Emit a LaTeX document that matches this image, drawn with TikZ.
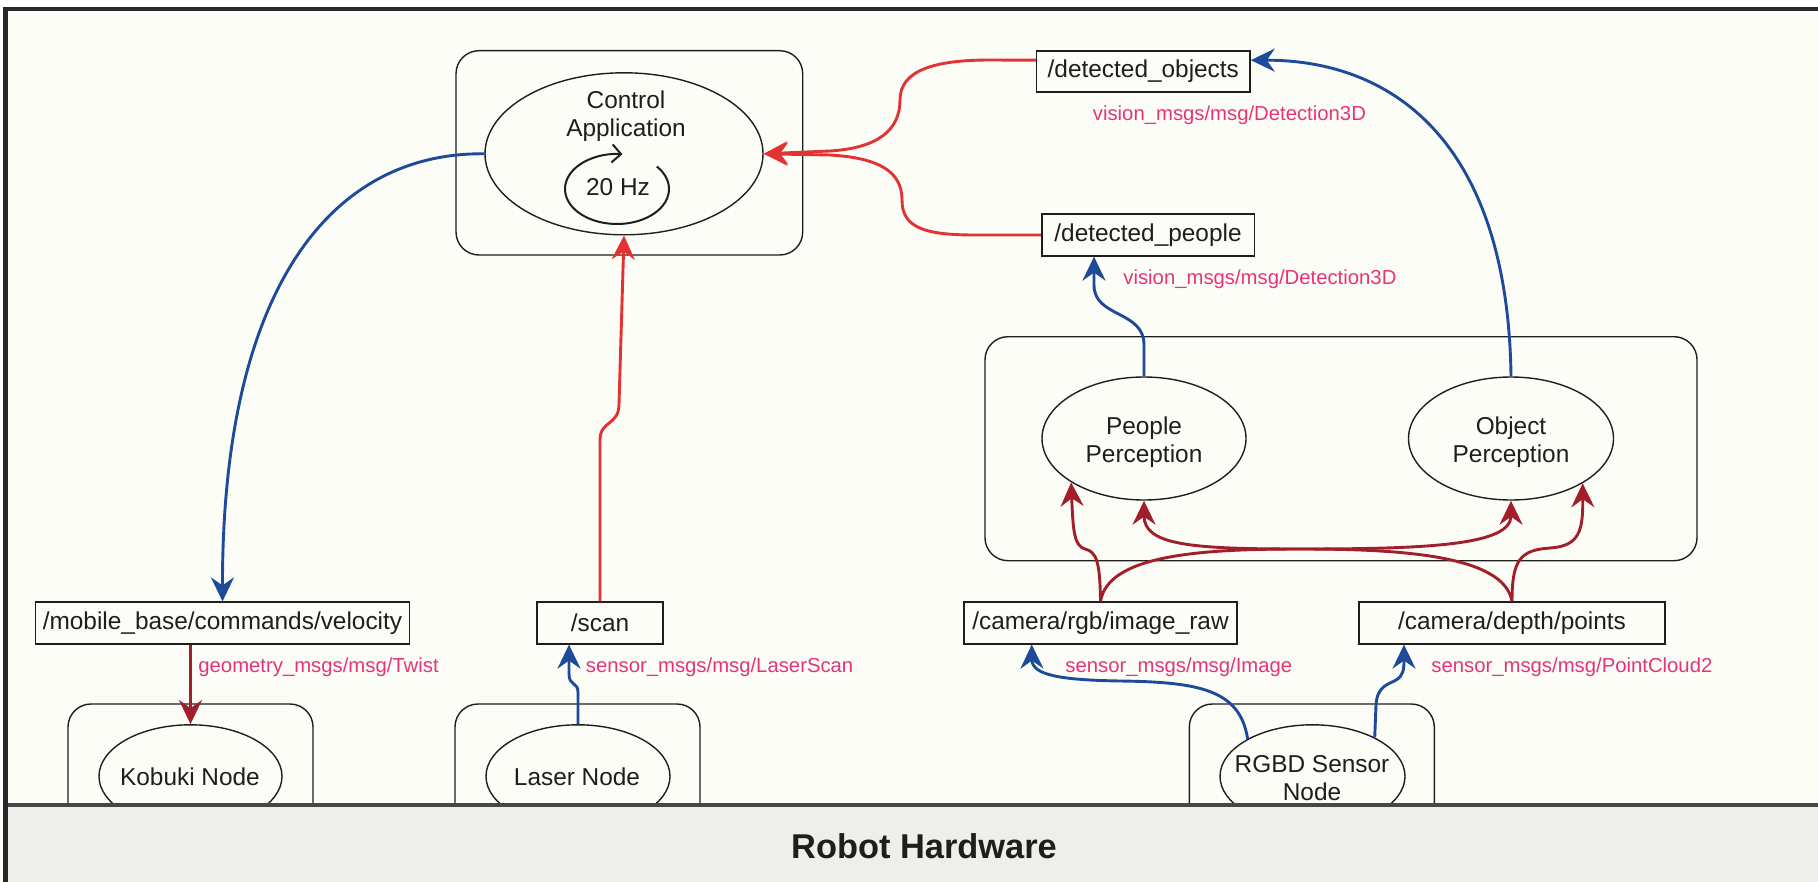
\documentclass[tikz,border=0pt]{standalone}
\usepackage{fontspec}
\setmainfont{Liberation Sans}
\usetikzlibrary{arrows.meta,shapes.geometric}
\definecolor{bgc}{RGB}{253,253,247}
\definecolor{bandc}{RGB}{238,238,234}
\definecolor{rred}{RGB}{226,50,50}
\definecolor{dred}{RGB}{162,30,42}
\definecolor{bblue}{RGB}{30,74,154}
\definecolor{pinkc}{RGB}{230,52,122}
\definecolor{framec}{RGB}{40,40,40}
\definecolor{inkc}{RGB}{30,30,30}
\begin{document}
\begin{tikzpicture}[x=0.5pt,y=-0.5pt,
  every node/.style={font=\fontsize{12.2pt}{14pt}\selectfont, text=inkc},
  topic/.style={draw=inkc, line width=0.8pt, fill=bgc, rectangle, inner sep=0pt, minimum height=20.8pt},
  cont/.style={draw=inkc, line width=0.7pt, fill=bgc, rectangle, rounded corners=11.5pt, inner sep=0pt},
  proc/.style={draw=inkc, line width=0.7pt, fill=bgc, ellipse, inner sep=0pt},
  lbl/.style={align=center, inner sep=0pt},
  msg/.style={font=\fontsize{10.15pt}{12pt}\selectfont, text=pinkc, inner sep=0pt, anchor=west},
  conn/.style={line width=1.45pt, -{Stealth[length=12pt,width=11.5pt,inset=4pt]}}]
\useasboundingbox (0,0) rectangle (1818,882);
\fill[white] (0,0) rectangle (1818,882);
\fill[bgc] (5,9) rectangle (1818,882);

% containers
\node[cont, minimum width=173.35pt, minimum height=102.15pt] (ctrlbox) at (629.35,152.85) {};
\node[cont, minimum width=356pt, minimum height=112pt] (percbox) at (1341,448.7) {};
\node[cont, minimum width=122.5pt, minimum height=68pt] (kobbox) at (190.5,772) {};
\node[cont, minimum width=122.5pt, minimum height=68pt] (lasbox) at (577.5,772) {};
\node[cont, minimum width=122.5pt, minimum height=68pt] (rgbdbox) at (1311.8,772) {};

% processes
\node[proc, minimum width=139pt, minimum height=81pt] (ctrl) at (624,153.8) {};
\node[lbl] (ctrltxt) at (626,116) {Control\\Application};
\node[lbl] (hz) at (618,187) {20 Hz};
\coordinate (loopc) at (617,189);
\draw[inkc, line width=1pt, -{Straight Barb[length=4.5pt,width=9pt]}] (loopc) ++(40:26pt and 17.5pt) arc[start angle=40, end angle=-276, x radius=26pt, y radius=17.5pt];

\node[proc, minimum width=102pt, minimum height=61.5pt] (peop) at (1144,438.5) {};
\node[lbl] (peoptxt) at (1144,442) {People\\Perception};
\node[proc, minimum width=102.5pt, minimum height=61.5pt] (obj) at (1511,438.5) {};
\node[lbl] (objtxt) at (1511,442) {Object\\Perception};
\node[proc, minimum width=91.5pt, minimum height=51.5pt] (kob) at (190.5,776.3) {};
\node[lbl] (kobtxt) at (190,777) {Kobuki Node};
\node[proc, minimum width=92pt, minimum height=51.5pt] (las) at (578,776.3) {};
\node[lbl] (lastxt) at (577,777) {Laser Node};
\node[proc, minimum width=92.5pt, minimum height=51.5pt] (rgbd) at (1312.5,776.3) {};
\node[lbl] (rgbdtxt) at (1312,778) {RGBD Sensor\\Node};

% topics
\node[topic, minimum width=186.85pt] (mob) at (222.5,623) {/mobile\_base/commands/velocity};
\node[topic, minimum width=63pt] (scan) at (600,623) {/scan};
\node[topic, minimum width=136.5pt] (rgb) at (1100.5,623) {/camera/rgb/image\_raw};
\node[topic, minimum width=153pt] (dep) at (1512,623) {/camera/depth/points};
\node[topic, minimum width=106.65pt, minimum height=20.35pt] (dobj) at (1143.3,71.5) {/detected\_objects};
\node[topic, minimum width=106.3pt] (dpeo) at (1148,235) {/detected\_people};

% message types
\node[msg] (m1) at (1092.5,115.5) {vision\_msgs/msg/Detection3D};
\node[msg] (m2) at (1123,279.3) {vision\_msgs/msg/Detection3D};
\node[msg] (m3) at (198,667) {geometry\_msgs/msg/Twist};
\node[msg] (m4) at (585.5,667) {sensor\_msgs/msg/LaserScan};
\node[msg] (m5) at (1065,667) {sensor\_msgs/msg/Image};
\node[msg] (m6) at (1431,667) {sensor\_msgs/msg/PointCloud2};

% connectors
\draw[conn, bblue] (ctrl.west) .. controls (330,152) and (222,290) .. (mob.north);
\draw[conn, dred] (mob.south -| kob.north) -- (kob.north);
\draw[conn, bblue] (las.north) -- (578,692) .. controls (578,682) and (569,686) .. (569,674) -- ([xshift=-15.5pt]scan.south);
\draw[conn, rred] (scan.north) -- (600,440) .. controls (600,420) and (619,426) .. (619,404) -- (ctrl.south);
\draw[conn, rred] ([yshift=5.65pt]dobj.west) -- (990,60) .. controls (935,60) and (900,70) .. (900,100) .. controls (900,130) and (878,148) .. (830,151) -- (ctrl.east);
\draw[conn, rred] (dpeo.west) -- (975,235) .. controls (925,235) and (902,228) .. (902,200) .. controls (902,172) and (880,158) .. (830,155) -- (ctrl.east);
\draw[conn, bblue] (peop.north) -- (1144,345) .. controls (1144,310) and (1094,318) .. (1094,285) -- ([xshift=-27pt]dpeo.south);
\draw[conn, bblue] (obj.north) .. controls (1508,150) and (1400,60) .. ([yshift=5.65pt]dobj.east);
\draw[conn, dred] (rgb.north) .. controls (1100,560) and (1096,552) .. (1085,549) .. controls (1074,546) and (1073,530) .. (peop.211);
\draw[conn, dred] (rgb.north) .. controls (1108,555) and (1200,549) .. (1300,549) .. controls (1430,549) and (1511,545) .. (obj.south);
\draw[conn, dred] (dep.north) .. controls (1504,555) and (1400,549) .. (1300,549) .. controls (1190,549) and (1144,545) .. (peop.south);
\draw[conn, dred] (dep.north) .. controls (1512,560) and (1520,550) .. (1550,548) .. controls (1580,546) and (1583,530) .. (obj.-32);
\draw[conn, bblue] (rgbd.150) .. controls (1240,690) and (1200,682) .. (1120,681) .. controls (1060,680) and (1032,675) .. ([xshift=-34.4pt]rgb.south);
\draw[conn, bblue] (rgbd.32) -- (1376,705) .. controls (1377,685) and (1390,684) .. (1396,680) .. controls (1403,676) and (1404,670) .. ([xshift=-54pt]dep.south);

% hardware band
\fill[bandc] (5,805) rectangle (1818,882);
\draw[black!72, line width=2pt] (5,805) -- (1818,805);
\draw[framec, line width=2.2pt] (5.5,882) -- (5.5,9) -- (1818,9);
\node[font=\bfseries\fontsize{17.2pt}{20pt}\selectfont] (hw) at (924,846) {Robot Hardware};
\end{tikzpicture}
\end{document}
